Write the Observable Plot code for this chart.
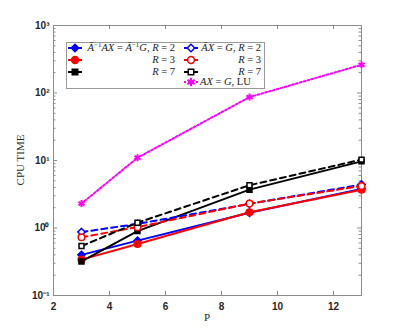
<!DOCTYPE html>
<html><head><meta charset="utf-8">
<script src="https://cdn.jsdelivr.net/npm/d3@7"></script>
<script src="https://cdn.jsdelivr.net/npm/@observablehq/plot@0.6"></script>
<style>
body{margin:0;background:#fff;}
#wrap{position:relative;width:399px;height:332px;}
#legend{position:absolute;left:66px;top:42px;width:197px;height:45px;border:1px solid #9a9a9a;background:#fff;font-family:"Liberation Serif",serif;font-size:10.5px;color:#222;}
.row{position:absolute;height:12px;line-height:12px;white-space:nowrap;}
.row svg{position:absolute;top:0;}
.txt{position:absolute;top:0;}
i{font-style:italic;}
sup{font-size:7px;vertical-align:4px;line-height:0;}
</style></head>
<body><div id="wrap"><div id="legend"></div></div>
<script>
const P = [3, 5, 9, 13];
const solidR2 = [0.40, 0.65, 1.68, 3.8];
const solidR3 = [0.34, 0.58, 1.71, 3.7];
const solidR7 = [0.32, 0.90, 3.7, 9.7];
const dashR2 = [0.87, 1.15, 2.28, 4.4];
const dashR3 = [0.73, 1.03, 2.3, 4.2];
const dashR7 = [0.54, 1.2, 4.3, 10.3];
const lu = [2.3, 11, 87, 262];
const xTicks = [2, 4, 6, 8, 10, 12];
const yTicks = [0.1, 1, 10, 100, 1000];
const yTickLabels = ["10\u207B\u00B9", "10\u2070", "10\u00B9", "10\u00B2", "10\u00B3"];

const series = [
  {vals: solidR2, color: "blue", dash: null, symbol: "diamond2", fill: "blue"},
  {vals: solidR3, color: "red", dash: null, symbol: "circle", fill: "red"},
  {vals: solidR7, color: "black", dash: null, symbol: "square", fill: "black"},
  {vals: dashR2, color: "blue", dash: "6,4", symbol: "diamond2", fill: "white"},
  {vals: dashR3, color: "red", dash: "6,4", symbol: "circle", fill: "white"},
  {vals: dashR7, color: "black", dash: "6,4", symbol: "square", fill: "white"},
  {vals: lu, color: "magenta", dash: "2,2", symbol: "asterisk", fill: "magenta"}
];

const W = 399, H = 332, mL = 53, mR = 38, mT = 25, mB = 37;
const pw = W - mL - mR, ph = H - mT - mB;
const minor = [];
for (let e = -1; e < 3; e++) for (let k = 2; k <= 9; k++) minor.push(k * Math.pow(10, e));

const marks = [];
series.forEach(s => {
  const data = P.map((p, i) => ({p, v: s.vals[i]}));
  marks.push(Plot.line(data, {x: "p", y: "v", stroke: s.color, strokeWidth: 2, strokeDasharray: s.dash}));
});
series.forEach(s => {
  const data = P.map((p, i) => ({p, v: s.vals[i]}));
  marks.push(Plot.dot(data, {x: "p", y: "v", symbol: () => s.symbol, stroke: s.color, fill: s.fill, strokeWidth: s.symbol === "asterisk" ? 2 : 1.5, r: s.symbol === "square" ? 2.8 : 3.3}));
});

const axisColor = "#8c8c8c";
const chart = Plot.plot({
  width: W, height: H,
  marginLeft: mL, marginRight: mR, marginTop: mT, marginBottom: mB,
  style: {fontFamily: "Liberation Sans, Arial, sans-serif", fontSize: "10px", color: "#262626", background: "white"},
  x: {domain: [2, 13]},
  y: {type: "log", domain: [0.1, 1000]},
  marks: [
    Plot.frame({stroke: axisColor}),
    Plot.ruleX(xTicks, {x: d => d, insetTop: ph - 4, stroke: axisColor}),
    Plot.ruleX(xTicks, {x: d => d, insetBottom: ph - 4, stroke: axisColor}),
    Plot.ruleY(yTicks, {y: d => d, insetRight: pw - 4, stroke: axisColor}),
    Plot.ruleY(yTicks, {y: d => d, insetLeft: pw - 4, stroke: axisColor}),
    Plot.ruleY(minor, {y: d => d, insetRight: pw - 2.5, stroke: axisColor}),
    Plot.ruleY(minor, {y: d => d, insetLeft: pw - 2.5, stroke: axisColor}),
    Plot.axisX({ticks: xTicks, tickSize: 0, tickPadding: 7, fontWeight: "bold", label: null}),
    Plot.axisY({ticks: yTicks, tickSize: 0, tickPadding: 4, fontWeight: "bold", label: null,
      tickFormat: d => yTickLabels[yTicks.indexOf(d)]}),
    ...marks
  ]
});
const wrap = document.getElementById("wrap");
wrap.insertBefore(chart, wrap.firstChild);

// axis titles as SVG text
const svg = d3.select(chart);
svg.append("text").attr("x", mL + pw / 2).attr("y", 321).attr("text-anchor", "middle")
  .attr("font-family", "Liberation Serif, serif").attr("font-size", 11).attr("fill", "#262626").text("P");
svg.append("text").attr("transform", `translate(24,${mT + ph / 2}) rotate(-90)`).attr("text-anchor", "middle")
  .attr("font-family", "Liberation Serif, serif").attr("font-size", 11).attr("fill", "#262626").text("CPU TIME");

// legend
const legendRows = [
  {s: 0, col: 0, row: 0, html: '<i>A&#772;</i><sup>\u22121</sup><i>AX</i> = <i>A&#772;</i><sup>\u22121</sup><i>G</i>, <i>R</i> = 2'},
  {s: 1, col: 0, row: 1, html: '<i>R</i> = 3'},
  {s: 2, col: 0, row: 2, html: '<i>R</i> = 7'},
  {s: 3, col: 1, row: 0, html: '<i>A&#772;X</i> = <i>G</i>, <i>R</i> = 2'},
  {s: 4, col: 1, row: 1, html: '<i>R</i> = 3'},
  {s: 5, col: 1, row: 2, html: '<i>R</i> = 7'},
  {s: 6, col: 1, row: 3, html: '<i>AX</i> = <i>G</i>, LU', left: true}
];
const leg = d3.select("#legend");
const sym = {circle: d3.symbolCircle, square: d3.symbolSquare, diamond2: d3.symbolDiamond2, asterisk: d3.symbolAsterisk};
legendRows.forEach(r => {
  const s = series[r.s];
  const top = [-1, 11, 23, 33][r.row];
  const x0 = r.col === 0 ? 0 : 116;
  const row = leg.append("div").attr("class", "row").style("left", x0 + "px").style("top", top + "px").style("width", (r.col === 0 ? 108 : 78) + "px");
  const g = row.append("svg").attr("width", 16).attr("height", 12).style("left", "0px");
  g.append("line").attr("x1", 1).attr("x2", 15).attr("y1", 6).attr("y2", 6).attr("stroke", s.color).attr("stroke-width", 2).attr("stroke-dasharray", s.dash);
  const area = s.symbol === "square" ? 30 : s.symbol === "asterisk" ? 50 : 36;
  g.append("path").attr("transform", "translate(8,6)").attr("d", d3.symbol(sym[s.symbol], area)())
    .attr("fill", s.symbol === "asterisk" ? "none" : s.fill).attr("stroke", s.color).attr("stroke-width", s.symbol === "asterisk" ? 2 : 1.5);
  const t = row.append("div").attr("class", "txt").html(r.html);
  if (r.left) t.style("left", "17px"); else t.style("right", "0px");
});
</script></body></html>
